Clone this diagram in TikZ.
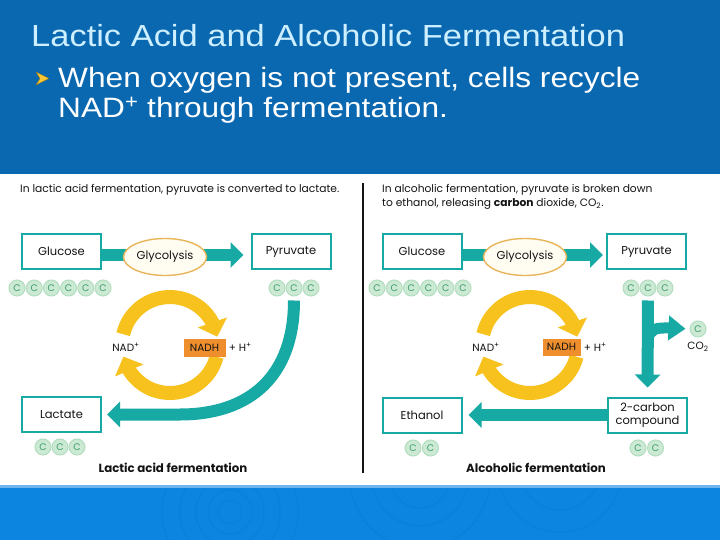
\documentclass[tikz,border=0pt]{standalone}
\usepackage{fontspec}
\setmainfont{Poppins}
\newfontfamily\slidefont[FakeStretch=1.13]{Liberation Sans}
\usepackage{xcolor}
\usepackage{tikz}
\usetikzlibrary{arrows.meta,bending,shapes.geometric,positioning}
\definecolor{topblue}{HTML}{0A68B1}
\definecolor{lowblue}{HTML}{0B85DF}
\definecolor{titlec}{HTML}{CDEFFF}
\definecolor{tealc}{HTML}{17A9A3}
\definecolor{yelc}{HTML}{F7C21E}
\definecolor{cfill}{HTML}{CBE9D3}
\definecolor{cedge}{HTML}{B3DDC0}
\definecolor{ctext}{HTML}{3B9B6B}
\definecolor{glyfill}{HTML}{FFFDF2}
\definecolor{glyedge}{HTML}{E9B55A}
\definecolor{nadhc}{HTML}{EE8E2C}
\definecolor{inkc}{HTML}{141414}
\tikzset{
  stepbox/.style={draw=tealc,line width=2pt,fill=white,minimum width=79pt,minimum height=35pt,align=center,inner sep=2pt,text=inkc,font=\fontsize{11.5}{13}\selectfont},
  glyc/.style={ellipse,draw=glyedge,line width=1.4pt,fill=glyfill,minimum width=83pt,minimum height=37pt,inner sep=0pt,text=inkc,font=\fontsize{11.5}{13}\selectfont},
  carbon/.style={circle,fill=cfill,draw=cedge,line width=1pt,minimum size=16pt,inner sep=0pt,text=ctext,font=\fontsize{9.5}{10}\selectfont},
  tealarr/.style={-{Triangle[length=13pt,width=25pt]},line width=12pt,tealc},
  yelarr/.style={-{Triangle[length=15pt,width=30pt]},line width=14pt,yelc},
  lbl/.style={text=inkc,font=\fontsize{10.5}{11}\selectfont,inner sep=1pt},
  captext/.style={text=inkc,font=\fontsize{10.7}{14}\selectfont,anchor=west,align=left,inner sep=0pt},
  foot/.style={text=inkc,font=\bfseries\fontsize{11.8}{13}\selectfont}
}
\begin{document}
\begin{tikzpicture}[x=1pt,y=-1pt]
\useasboundingbox (0,0) rectangle (720,540);
\fill[topblue] (0,0) rectangle (720,174);
\fill[white] (0,174) rectangle (720,486);
\fill[lowblue] (0,486) rectangle (720,540);
\fill[lowblue!60!white] (0,485) rectangle (720,487.5);
\begin{scope}[draw=topblue,opacity=0.15,line width=1.2pt]
\clip (0,488) rectangle (720,540);
\foreach \r in {12,22,34,50,68} {\draw (230,512) circle (\r);}
\foreach \r in {30,48,70} {\draw (420,478) circle (\r);}
\foreach \r in {40,62} {\draw (560,470) circle (\r);}
\end{scope}
\node[text=titlec,font=\fontsize{30.5}{34}\selectfont\slidefont,anchor=base west,inner sep=0pt] (title) at (31,47) {Lactic Acid and Alcoholic Fermentation};
\fill[yelc!90!white,draw=yelc!60!black,line width=0.4pt] (36,72) -- (49,78.5) -- (36,85) -- (40,78.5) -- cycle;
\node[text=white,font=\fontsize{28}{30}\selectfont\slidefont,anchor=base west,inner sep=0pt,align=left] (bullet) at (58,88) {When oxygen is not present, cells recycle};
\node[text=white,font=\fontsize{28}{30}\selectfont\slidefont,anchor=base west,inner sep=0pt] (bullet2) at (58,118) {NAD\textsuperscript{+} through fermentation.};
\draw[inkc,line width=1.3pt] (363,183) -- (363,473);
\node[captext] (capl) at (20,190) {In lactic acid fermentation, pyruvate is converted to lactate.};
\node[captext] (capr) at (382,197) {In alcoholic fermentation, pyruvate is broken down\\to ethanol, releasing \textbf{carbon} dioxide, CO\textsubscript{2}.};
\node[stepbox] (glu) at (61.5,251.5) {Glucose};
\node[stepbox] (pyr) at (291,251.5) {Pyruvate};
\node[stepbox] (lac) at (61.5,414.5) {Lactate};
\node[stepbox] (rglu) at (422,251.5) {Glucose};
\node[stepbox] (rpyr) at (646.5,251.5) {Pyruvate};
\node[stepbox] (eth) at (422,415) {Ethanol};
\node[stepbox] (cmp) at (647.5,415) {2-carbon\\compound};
\foreach \i in {0,...,5} {
  \node[carbon] (gc\i) at (17+17.2*\i,288) {C};
  \node[carbon] (rgc\i) at (377+17.2*\i,288) {C};
}
\foreach \i in {0,1,2} {
  \node[carbon] (pc\i) at (277+17*\i,288) {C};
  \node[carbon] (rpc\i) at (631+17*\i,288) {C};
  \node[carbon] (lc\i) at (43+17*\i,447) {C};
}
\foreach \i in {0,1} {
  \node[carbon] (ec\i) at (413+17.5*\i,448) {C};
  \node[carbon] (mc\i) at (638+17.5*\i,448) {C};
}
\node[carbon] (co2c) at (698,329) {C};
\node[lbl] (co2) at (698,347) {CO\textsubscript{2}};
\draw[tealarr,shorten >=7pt] ([yshift=-3.5pt]glu.east) -- ([yshift=-3.5pt]pyr.west);
\draw[tealarr,shorten >=3pt] ([yshift=-3.5pt]rglu.east) -- ([yshift=-3.5pt]rpyr.west);
\node[glyc] (gly) at (165,257) {Glycolysis};
\node[glyc] (rgly) at (525,257) {Glycolysis};
\draw[tealarr,shorten <=4pt,shorten >=5pt] (pc1.south) .. controls (294,376) and (250,414.5) .. (180,414.5) -- (lac.east);
\draw[tealarr,shorten <=4pt,shorten >=9pt] (rpc1.south) -- (cmp.north);
\coordinate (fork) at (648,337);
\draw[-{Triangle[length=17pt,width=24pt]},line width=11pt,tealc,shorten >=4pt] (fork) .. controls (654,327) .. (co2c.west);
\draw[tealarr,shorten >=6pt] (cmp.west) -- (eth.east);
\foreach \c/\s in {170/l,530/r} {
  \coordinate (cyc\s) at (\c,345);
  \draw[yelarr] ([shift={(193:48)}]cyc\s) arc[start angle=193,end angle=350,radius=48];
  \draw[yelarr] ([shift={(14:48)}]cyc\s) arc[start angle=14,end angle=166,radius=48];
}
\node[lbl] (nadl) at (126,347) {NAD\textsuperscript{+}};
\node[fill=nadhc,lbl,minimum width=42pt,minimum height=18pt] (nadhl) at (204.5,347.5) {NADH};
\node[lbl,right=2pt of nadhl] (hl) {+ H\textsuperscript{+}};
\node[lbl] (nadr) at (486,347) {NAD\textsuperscript{+}};
\node[fill=nadhc,lbl,minimum width=38pt,minimum height=17pt] (nadhr) at (561.5,347) {NADH};
\node[lbl,right=2pt of nadhr] (hr) {+ H\textsuperscript{+}};
\node[foot] (footl) at (173,468) {Lactic acid fermentation};
\node[foot] (footr) at (536,468) {Alcoholic fermentation};
\end{tikzpicture}
\end{document}
